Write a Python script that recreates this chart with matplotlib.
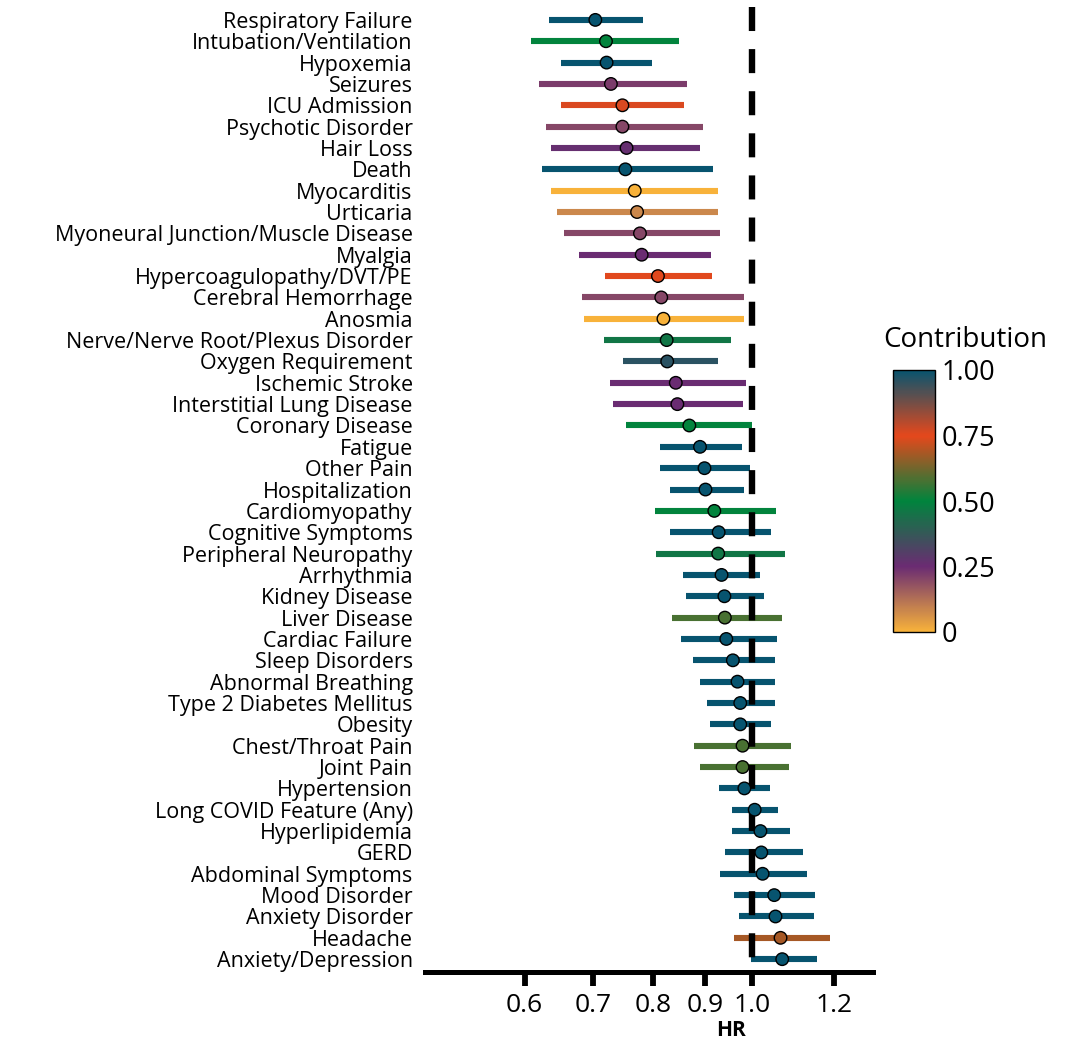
import numpy as np
import matplotlib
matplotlib.use("Agg")
import matplotlib.pyplot as plt
from matplotlib.colors import LinearSegmentedColormap, Normalize
from matplotlib.cm import ScalarMappable

plt.rcParams['font.family'] = ['Open Sans', 'DejaVu Sans']

outcomes = [
    "Respiratory Failure", "Intubation/Ventilation", "Hypoxemia", "Seizures",
    "ICU Admission", "Psychotic Disorder", "Hair Loss", "Death", "Myocarditis",
    "Urticaria", "Myoneural Junction/Muscle Disease", "Myalgia",
    "Hypercoagulopathy/DVT/PE", "Cerebral Hemorrhage", "Anosmia",
    "Nerve/Nerve Root/Plexus Disorder", "Oxygen Requirement", "Ischemic Stroke",
    "Interstitial Lung Disease", "Coronary Disease", "Fatigue", "Other Pain",
    "Hospitalization", "Cardiomyopathy", "Cognitive Symptoms",
    "Peripheral Neuropathy", "Arrhythmia", "Kidney Disease", "Liver Disease",
    "Cardiac Failure", "Sleep Disorders", "Abnormal Breathing",
    "Type 2 Diabetes Mellitus", "Obesity", "Chest/Throat Pain", "Joint Pain",
    "Hypertension", "Long COVID Feature (Any)", "Hyperlipidemia", "GERD",
    "Abdominal Symptoms", "Mood Disorder", "Anxiety Disorder", "Headache",
    "Anxiety/Depression",
]

hr = [0.703, 0.720, 0.721, 0.728, 0.747, 0.747, 0.754, 0.752, 0.768,
      0.772, 0.777, 0.780, 0.809, 0.815, 0.819, 0.825, 0.826, 0.842,
      0.845, 0.868, 0.889, 0.898, 0.900, 0.918, 0.927, 0.926, 0.933,
      0.939, 0.940, 0.943, 0.957, 0.967, 0.973, 0.973, 0.978, 0.978,
      0.982, 1.005, 1.018, 1.020, 1.023, 1.050, 1.053, 1.065, 1.069]

hr_low = [0.634, 0.609, 0.651, 0.620, 0.651, 0.630, 0.637, 0.624, 0.637,
          0.645, 0.655, 0.677, 0.719, 0.683, 0.685, 0.717, 0.748, 0.726,
          0.731, 0.753, 0.813, 0.813, 0.831, 0.803, 0.831, 0.806, 0.855,
          0.862, 0.834, 0.851, 0.876, 0.890, 0.903, 0.910, 0.877, 0.890,
          0.928, 0.956, 0.956, 0.941, 0.929, 0.960, 0.971, 0.960, 0.996]

hr_high = [0.783, 0.848, 0.799, 0.864, 0.857, 0.895, 0.889, 0.915, 0.925,
           0.926, 0.929, 0.911, 0.913, 0.981, 0.982, 0.953, 0.925, 0.985,
           0.978, 0.998, 0.977, 0.995, 0.981, 1.055, 1.043, 1.075, 1.016,
           1.027, 1.068, 1.056, 1.052, 1.051, 1.051, 1.042, 1.091, 1.086,
           1.040, 1.058, 1.089, 1.119, 1.129, 1.150, 1.149, 1.189, 1.155]

contribution = [1.0, 0.5, 1.0, 0.22, 0.76, 0.2, 0.26, 1.0, 0.0,
                0.08, 0.2, 0.25, 0.75, 0.2, 0.0, 0.46, 0.96, 0.25,
                0.25, 0.5, 1.0, 1.0, 1.0, 0.5, 1.0, 0.46, 1.0,
                1.0, 0.58, 1.0, 1.0, 1.0, 1.0, 1.0, 0.58, 0.58,
                1.0, 1.0, 1.0, 1.0, 1.0, 1.0, 1.0, 0.68, 1.0]

x_ticks = [0.6, 0.7, 0.8, 0.9, 1.0, 1.2]
x_tick_labels = ["0.6", "0.7", "0.8", "0.9", "1.0", "1.2"]
cbar_ticks = [0, 0.25, 0.5, 0.75, 1.0]
cbar_tick_labels = ["0", "0.25", "0.50", "0.75", "1.00"]

cmap = LinearSegmentedColormap.from_list(
    "contrib",
    [(0.0, "#F8B23A"), (0.25, "#6A2C72"), (0.5, "#00843D"),
     (0.75, "#E4481C"), (1.0, "#07546F")])
norm = Normalize(0, 1)

fig = plt.figure(figsize=(10.71, 10.42), dpi=100)
ax = fig.add_axes([0.397, 0.0672, 0.418, 0.926])

n = len(outcomes)
y = np.arange(n)
y_top, y_bottom = -0.6, n - 0.4
for i in range(n):
    c = cmap(norm(contribution[i]))
    ax.plot([hr_low[i], hr_high[i]], [y[i], y[i]], color=c, lw=4.4,
            solid_capstyle='butt', zorder=1)
# reference line drawn from the top so the dash pattern starts there
ax.plot([1.0, 1.0], [y_top, y_bottom], color='black', lw=4.6,
        linestyle=(0, (3.76, 2.83)), solid_capstyle='butt',
        dash_capstyle='butt', zorder=2)
ax.scatter(hr, y, s=9.0**2, c=contribution, cmap=cmap, norm=norm,
           edgecolors='black', linewidths=1.0, zorder=3)

ax.set_xscale('log')
ax.set_xlim(0.48, 1.31)
ax.set_ylim(y_bottom, y_top)
ax.set_xticks(x_ticks)
ax.set_xticklabels(x_tick_labels, fontsize=19)
ax.xaxis.set_minor_locator(matplotlib.ticker.NullLocator())
ax.set_yticks(y)
ax.set_yticklabels(outcomes, fontsize=15.5)
ax.tick_params(axis='y', length=0, pad=9)
ax.tick_params(axis='x', length=10, width=4.2, pad=5)
for s in ['left', 'right', 'top']:
    ax.spines[s].set_visible(False)
ax.spines['bottom'].set_linewidth(3.6)
fig.text(731 / 1071, 1 - 1031 / 1042, "HR", fontsize=15, fontweight='bold',
         ha='center', va='center')

cax = fig.add_axes([893 / 1071, 1 - 632 / 1042, 42 / 1071, 262 / 1042])
sm = ScalarMappable(norm=norm, cmap=cmap)
cb = fig.colorbar(sm, cax=cax)
cb.set_ticks(cbar_ticks)
cb.set_ticklabels(cbar_tick_labels)
cb.ax.tick_params(length=0, labelsize=19.5, pad=5)
cb.outline.set_linewidth(1.0)
fig.text(883 / 1071, 1 - 340 / 1042, "Contribution", fontsize=20,
         ha='left', va='center')

fig.savefig("out.png", dpi=100)
